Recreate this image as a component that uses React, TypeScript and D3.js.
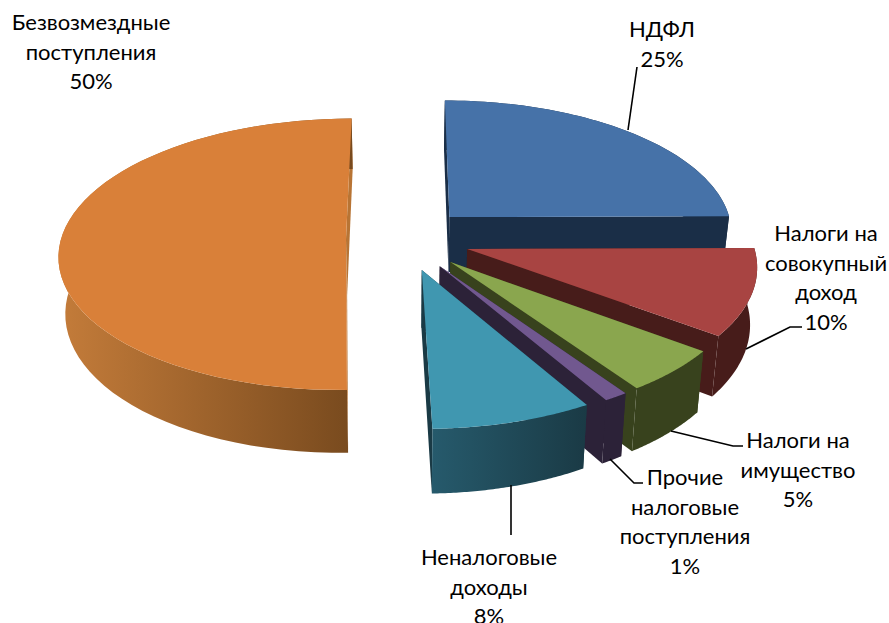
import * as d3 from 'd3';

const categories = ['НДФЛ', 'Налоги на совокупный доход', 'Налоги на имущество', 'Прочие налоговые поступления', 'Неналоговые доходы', 'Безвозмездные поступления'];
const values = [24.9, 10.3, 5.2, 1.2, 8.0, 50.4];
const topColors = ['#4672a8', '#a84442', '#8aa64e', '#71588f', '#4097b0', '#d98039'];
const wallFrom = ['#1a2e47', '#471c1a', '#38421d', '#2c2238', '#265a6c', '#c47c3a'];
const wallTo = ['#1a2e47', '#471c1a', '#38421d', '#2c2238', '#1a3a45', '#784a1e'];
const explode = [67, 67, 67, 67, 67, 57];
const drawOrder = [0, 5, 1, 2, 3, 4];

const labelLines = [
  ['НДФЛ', '25%'],
  ['Налоги на', 'совокупный', 'доход', '10%'],
  ['Налоги на', 'имущество', '5%'],
  ['Прочие', 'налоговые', 'поступления', '1%'],
  ['Неналоговые', 'доходы', '8%'],
  ['Безвозмездные', 'поступления', '50%'],
];
const labelAnchors = [[662, 37], [826, 241], [798, 448], [685, 485], [489, 565], [91, 30]];
const leaders = [
  [[628, 130], [637, 67]],
  [[746, 349], [790, 327], [802, 327]],
  [[671, 431], [733, 446], [743, 446]],
  [[610, 459], [634, 483], [643, 483]],
  [[511, 485], [511, 535]],
];

const R = 285;
const K = 0.47;
const P = 0.11;
const H = 56;
const SHRINK = 0.02; // bottom of the pie sits a bit further from the camera
const VX = 403;
const VY = 239;

function project(x: number, y: number, z: number): [number, number] {
  const s = 1 / (1 - (P * y) / R);
  return [VX + x * s * (1 - (SHRINK * z) / H), VY + (y * K + z) * s];
}

const pieData = d3.pie<number>().sort(null)(values);

const line = d3.line();

export default function App() {
  const slices = pieData.map((p, i) => {
    const bis = (p.startAngle + p.endAngle) / 2;
    const ox = explode[i] * Math.sin(bis);
    const oy = -explode[i] * Math.cos(bis);
    const angles = d3.range(0, 61).map((t) => p.startAngle + ((p.endAngle - p.startAngle) * t) / 60);
    const rim = (z: number) =>
      angles.map((a) => project(ox + R * Math.sin(a), oy - R * Math.cos(a), z));
    const apexTop = project(ox, oy, 0);
    const apexBottom = project(ox, oy, H);
    const rimTop = rim(0);
    const rimBottom = rim(H);
    const n = rimTop.length - 1;
    return {
      i,
      top: line([apexTop, ...rimTop])! + 'Z',
      wall: line([...rimTop, ...[...rimBottom].reverse()])! + 'Z',
      sideA: line([apexTop, rimTop[0], rimBottom[0], apexBottom])! + 'Z',
      sideB: line([apexTop, rimTop[n], rimBottom[n], apexBottom])! + 'Z',
    };
  });

  return (
    <svg width={889} height={623} style={{ position: 'absolute', left: 0, top: 0 }}>
      <defs>
        {categories.map((c, i) => (
          <linearGradient key={c} id={`wall${i}`} x1="0" x2="1" y1="0" y2="0">
            <stop offset="0" stopColor={wallFrom[i]} />
            <stop offset="1" stopColor={wallTo[i]} />
          </linearGradient>
        ))}
      </defs>
      {drawOrder.map((idx) => {
        const s = slices[idx];
        const sideFill = idx === 5 ? '#b87434' : wallTo[idx];
        return (
          <g key={idx}>
            <path d={s.sideA} fill={sideFill} />
            <path d={s.sideB} fill={sideFill} />
            <path d={s.wall} fill={`url(#wall${idx})`} />
            <path d={s.top} fill={topColors[idx]} />
          </g>
        );
      })}
      {leaders.map((pts, i) => (
        <path key={i} d={line(pts as [number, number][])!} fill="none" stroke="#000" strokeWidth={1.6} />
      ))}
      {labelLines.map((lines, i) => (
        <text
          key={i}
          textAnchor="middle"
          fontFamily="Lato, 'Open Sans', sans-serif"
          fontSize={22}
          fill="#000"
        >
          {lines.map((t, j) => (
            <tspan key={j} x={labelAnchors[i][0]} y={labelAnchors[i][1] + j * 29.6}>
              {t}
            </tspan>
          ))}
        </text>
      ))}
    </svg>
  );
}
